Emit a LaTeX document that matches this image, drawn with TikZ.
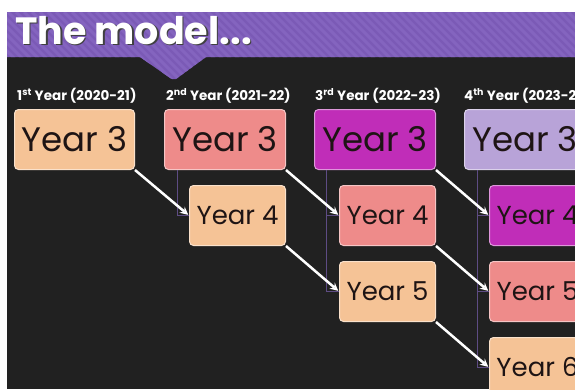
\documentclass[tikz,border=0pt]{standalone}
\usepackage{fontspec}
\setmainfont{Poppins}
\usepackage{tikz}
\usetikzlibrary{positioning, arrows}
\definecolor{slide}{HTML}{212121}
\definecolor{banner}{HTML}{7B5AB6}
\definecolor{bannerstripe}{HTML}{8464BF}
\definecolor{peach}{HTML}{F5C396}
\definecolor{salmon}{HTML}{EE8B8A}
\definecolor{magenta}{HTML}{C02DB8}
\definecolor{lavender}{HTML}{B8A3D8}
\definecolor{ink}{HTML}{1E1414}
\definecolor{treeline}{HTML}{5E4C84}
\tikzstyle{bigbox} = [rounded corners=4pt, line width=1pt, minimum width=121pt, minimum height=60pt, inner sep=0pt, text=ink, font=\fontsize{34}{34}\selectfont]
\tikzstyle{smallbox} = [bigbox, minimum width=96pt, font=\fontsize{26}{26}\selectfont]
\tikzstyle{peachbox} = [fill=peach, draw=peach!50!white]
\tikzstyle{salmonbox} = [fill=salmon, draw=salmon!50!white]
\tikzstyle{magentabox} = [fill=magenta, draw=magenta!50!white]
\tikzstyle{lavenderbox} = [fill=lavender, draw=lavender!50!white]
\tikzstyle{yearlbl} = [text=white, inner sep=0pt, anchor=south west, font=\bfseries\fontsize{13.5}{14}\selectfont]
\tikzstyle{move} = [white, line width=2.5pt, ->, >=stealth, shorten >=1pt]
\tikzstyle{tree} = [treeline, line width=1pt]
\begin{document}
\begin{tikzpicture}[x=1pt, y=-1pt]
    \clip (0,0) rectangle (575,389);
    \fill[white] (0,0) rectangle (575,389);
    \fill[slide] (7,12) rectangle (575,389);
    % banner with its notch
    \begin{scope}
        \clip (7,12) -- (575,12) -- (575,57) -- (206,57) -- (176,79) [rounded corners=3pt] -- (173,80) [sharp corners] -- (140,57) -- (7,57) -- cycle;
        \fill[banner] (7,12) rectangle (575,80);
        \foreach \i in {-80,-72,...,600}
            \draw[bannerstripe, line width=3pt] (\i,12) -- (\i+68,80);
    \end{scope}
    \node[text=black!75, inner sep=0pt, anchor=base west, font=\bfseries\fontsize{38}{38}\selectfont] (ttlshadow) at (16.5,45.5) {The model...};
    \node[text=white, inner sep=0pt, anchor=base west, font=\bfseries\fontsize{38}{38}\selectfont] (ttl) at (15,44) {The model...};

    % top row
    \node[bigbox, peachbox, minimum width=120pt, anchor=north west] (c1y3) at (14,109) {Year 3};
    \node[bigbox, salmonbox, right=29pt of c1y3] (c2y3) {Year 3};
    \node[bigbox, magentabox, right=28pt of c2y3] (c3y3) {Year 3};
    \node[bigbox, lavenderbox, right=28pt of c3y3] (c4y3) {Year 3};

    % the rows below
    \node[smallbox, peachbox, below=15pt of c2y3.south east, anchor=north east] (c2y4) {Year 4};
    \node[smallbox, salmonbox, below=15pt of c3y3.south east, anchor=north east] (c3y4) {Year 4};
    \node[smallbox, peachbox, below=15pt of c3y4] (c3y5) {Year 5};
    \node[smallbox, magentabox, below=15pt of c4y3.south east, anchor=north east] (c4y4) {Year 4};
    \node[smallbox, salmonbox, below=15pt of c4y4] (c4y5) {Year 5};
    \node[smallbox, peachbox, below=15pt of c4y5] (c4y6) {Year 6};

    % column headings
    \node[yearlbl] (h1) at ([shift={(3pt,5pt)}]c1y3.north west) {1\textsuperscript{st} Year (2020-21)};
    \node[yearlbl] (h2) at ([shift={(2pt,5pt)}]c2y3.north west) {2\textsuperscript{nd} Year (2021-22)};
    \node[yearlbl] (h3) at ([shift={(1pt,5pt)}]c3y3.north west) {3\textsuperscript{rd} Year (2022-23)};
    \node[yearlbl] (h4) at ([shift={(0pt,5pt)}]c4y3.north west) {4\textsuperscript{th} Year (2023-24)};

    % hierarchy lines
    \draw[tree] ([xshift=13pt]c2y3.south west) |- (c2y4.west);
    \draw[tree] ([xshift=12pt]c3y3.south west) |- (c3y4.west);
    \draw[tree] ([xshift=12pt]c3y3.south west) |- (c3y5.west);
    \draw[tree] ([xshift=13pt]c4y3.south west) |- (c4y4.west);
    \draw[tree] ([xshift=13pt]c4y3.south west) |- (c4y5.west);
    \draw[tree] ([xshift=13pt]c4y3.south west) |- (c4y6.west);

    % moving on a year
    \draw[move] (c1y3.south east) -- (c2y4.west);
    \draw[move] (c2y3.south east) -- (c3y4.west);
    \draw[move] (c2y4.south east) -- (c3y5.west);
    \draw[move] (c3y3.south east) -- (c4y4.west);
    \draw[move] (c3y4.south east) -- (c4y5.west);
    \draw[move] (c3y5.south east) -- (c4y6.west);
\end{tikzpicture}
\end{document}
